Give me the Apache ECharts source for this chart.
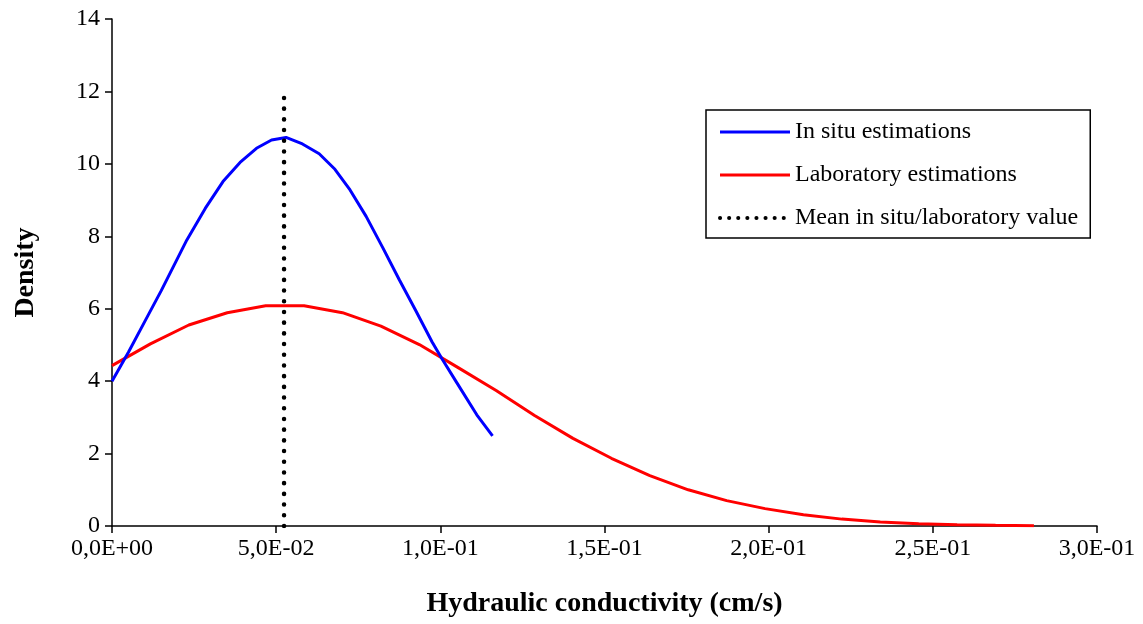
<!DOCTYPE html>
<html>
<head>
<meta charset="utf-8">
<script src="https://cdn.jsdelivr.net/npm/echarts@6/dist/echarts.min.js"></script>
<style>
  html, body { margin: 0; padding: 0; background: #fff; }
  #chart { width: 1143px; height: 624px; }
</style>
</head>
<body>
<div id="chart"></div>
<script>
// in situ estimations
const inSituX = [0, 0.005, 0.010, 0.015, 0.0228, 0.0284, 0.0338, 0.0390, 0.0440, 0.0486, 0.0530,
  0.0580, 0.0631, 0.0679, 0.0725, 0.0774, 0.0825, 0.0875, 0.0925, 0.0975, 0.1004, 0.1050, 0.1111, 0.1159]
const inSituY = [4.00, 4.80, 5.65, 6.50, 7.90, 8.77, 9.51, 10.04, 10.43, 10.66, 10.73,
  10.55, 10.28, 9.85, 9.28, 8.55, 7.68, 6.80, 5.95, 5.08, 4.63, 3.96, 3.07, 2.49]

// laboratory estimations
const labX = [0, 0.0117, 0.0234, 0.0351, 0.0468, 0.0585, 0.0702, 0.0819, 0.0936, 0.1053, 0.1170,
  0.1287, 0.1404, 0.1521, 0.1638, 0.1755, 0.1872, 0.1989, 0.2106, 0.2223, 0.2340, 0.2457, 0.2574, 0.2691, 0.2808]
const labY = [4.43, 5.03, 5.55, 5.89, 6.08, 6.08, 5.89, 5.52, 5.01, 4.38, 3.74,
  3.05, 2.42, 1.87, 1.39, 1.00, 0.70, 0.48, 0.31, 0.19, 0.11, 0.06, 0.035, 0.02, 0.01]

// mean in situ/laboratory value
const meanX = [0.0524, 0.0524]
const meanY = [0, 11.85]

const font = "'Liberation Serif', 'Times New Roman', serif"

const sciLabel = v => {
  if (v === 0) return '0,0E+00'
  const exp = Math.floor(Math.log10(v) + 1e-9)
  const mant = v / Math.pow(10, exp)
  const e = Math.abs(exp)
  return mant.toFixed(1).replace('.', ',') + 'E' + (exp < 0 ? '-' : '+') + (e < 10 ? '0' + e : e)
}

const pairs = (xs, ys) => xs.map((x, i) => [x, ys[i]])

const chart = echarts.init(document.getElementById('chart'))

chart.setOption({
  backgroundColor: '#fff',
  animation: false,
  grid: { left: 112, right: 46, top: 19, bottom: 98 },
  legend: {
    orient: 'vertical',
    left: 706,
    top: 110,
    padding: [10, 12, 8, 12],
    itemGap: 19,
    itemWidth: 70,
    itemHeight: 22,
    borderColor: '#000',
    borderWidth: 1.5,
    borderRadius: 0,
    itemStyle: { opacity: 0 },
    textStyle: { fontFamily: font, fontSize: 24, color: '#000' },
    data: [
      { name: 'In situ estimations', lineStyle: { width: 3, color: '#0000ff' } },
      { name: 'Laboratory estimations', lineStyle: { width: 3, color: '#ff0000' } },
      {
        name: 'Mean in situ/laboratory value',
        lineStyle: { width: 4, type: [0.1, 9], cap: 'round', color: '#000' }
      }
    ]
  },
  xAxis: {
    type: 'value',
    min: 0,
    max: 0.3,
    interval: 0.05,
    name: 'Hydraulic conductivity (cm/s)',
    nameLocation: 'middle',
    nameGap: 64,
    nameTextStyle: { fontFamily: font, fontSize: 28, fontWeight: 'bold', color: '#000' },
    axisLine: { lineStyle: { color: '#000', width: 1.5 } },
    axisTick: { show: true, inside: false, length: 7, lineStyle: { color: '#000', width: 1.5 } },
    axisLabel: { fontFamily: font, fontSize: 24, color: '#000', margin: 11, formatter: sciLabel },
    splitLine: { show: false }
  },
  yAxis: {
    type: 'value',
    min: 0,
    max: 14,
    interval: 2,
    name: 'Density',
    nameLocation: 'middle',
    nameGap: 72,
    nameRotate: 90,
    nameTextStyle: { fontFamily: font, fontSize: 28, fontWeight: 'bold', color: '#000' },
    axisLine: { show: true, lineStyle: { color: '#000', width: 1.5 } },
    axisTick: { show: true, inside: false, length: 7, lineStyle: { color: '#000', width: 1.5 } },
    axisLabel: { fontFamily: font, fontSize: 24, color: '#000', margin: 12 },
    splitLine: { show: false }
  },
  series: [
    {
      name: 'In situ estimations',
      type: 'line',
      symbol: 'none',
      data: pairs(inSituX, inSituY),
      lineStyle: { color: '#0000ff', width: 3 },
      itemStyle: { color: '#0000ff' },
      z: 3
    },
    {
      name: 'Laboratory estimations',
      type: 'line',
      symbol: 'none',
      data: pairs(labX, labY),
      lineStyle: { color: '#ff0000', width: 3 },
      itemStyle: { color: '#ff0000' },
      z: 2
    },
    {
      name: 'Mean in situ/laboratory value',
      type: 'line',
      symbol: 'none',
      data: pairs(meanX, meanY),
      lineStyle: { color: '#000', width: 4.5, type: [0.1, 10.6], cap: 'round' },
      itemStyle: { color: '#000' },
      z: 4
    }
  ]
})
</script>
</body>
</html>
